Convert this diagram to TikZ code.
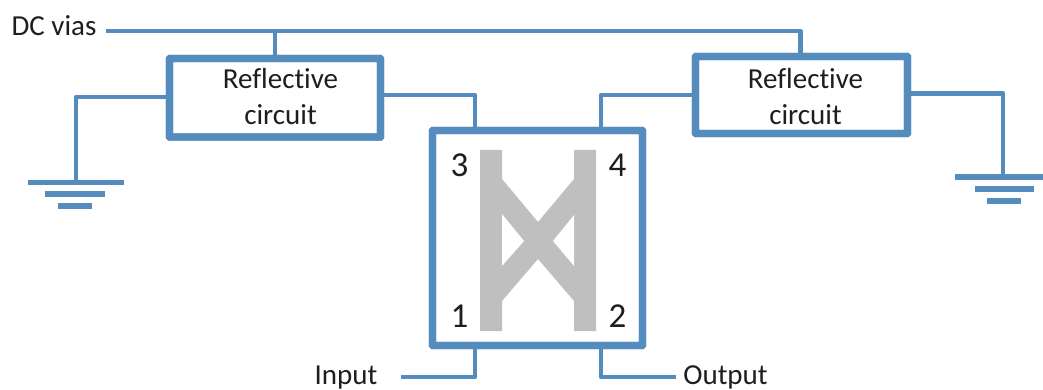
\documentclass[tikz,border=0pt]{standalone}
\usepackage{fontspec}
\setmainfont[Ligatures=NoCommon]{Carlito}
\definecolor{wire}{RGB}{84,140,190}
\definecolor{hybrid}{RGB}{191,191,191}
\definecolor{ink}{RGB}{30,30,30}
\tikzset{
  x=1pt,y=-1pt,
  wireline/.style={draw=wire,line width=4.8pt,line join=round},
  gndbar/.style={draw=wire,line width=5.4pt},
  boxnode/.style={draw=wire,line width=7.4pt,fill=white,rectangle,inner sep=0pt,outer sep=0pt,rounded corners=0.5pt},
  lbl/.style={inner sep=0pt,outer sep=0pt,text=ink,font=\fontsize{29}{29}\selectfont,anchor=base},
  num/.style={inner sep=0pt,outer sep=0pt,text=ink,font=\fontsize{35}{35}\selectfont,anchor=base},
}
\begin{document}
\begin{tikzpicture}
\useasboundingbox[fill=white] (0,0) rectangle (1043,390);
% nodes
\node[boxnode,minimum width=211pt,minimum height=78.5pt] (lbox) at (275,97.8) {};
\node[boxnode,minimum width=212pt,minimum height=77pt] (rbox) at (801.5,95) {};
\node[boxnode,minimum width=210pt,minimum height=215pt] (hyb) at (537.5,238) {};
% free ends
\coordinate (dcstart) at (106,31);
\coordinate (dcl) at (275,31);
\coordinate (dcr) at (800.5,31);
\coordinate (gl) at (76,97);
\coordinate (gla) at (76,182);
\coordinate (gr) at (1003,93.5);
\coordinate (gra) at (1003,176);
\coordinate (p3a) at (475,95);
\coordinate (p3b) at (475,130);
\coordinate (p4a) at (601,95);
\coordinate (p4b) at (601,130);
\coordinate (p1a) at (475,345);
\coordinate (p1b) at (475,377);
\coordinate (inend) at (401,377);
\coordinate (p2a) at (601,345);
\coordinate (p2b) at (601,377);
\coordinate (outend) at (676,377);
% connectors
\draw[wireline] (dcstart) -- (dcr) -- (rbox.north -| dcr);
\draw[wireline] (dcl) -- (lbox.north -| dcl);
\draw[wireline] (lbox.west |- gl) -- (gl) -- (gla);
\draw[wireline] (rbox.east |- gr) -- (gr) -- (gra);
\draw[wireline] (lbox.east |- p3a) -- (p3a) -- (p3b);
\draw[wireline] (rbox.west |- p4a) -- (p4a) -- (p4b);
\draw[wireline] (p1a) -- (p1b) -- (inend);
\draw[wireline] (p2a) -- (p2b) -- (outend);
% redraw box outlines over the wire ends
\draw[draw=wire,line width=7.4pt,rounded corners=0.5pt] (lbox.north west) rectangle (lbox.south east);
\draw[draw=wire,line width=7.4pt,rounded corners=0.5pt] (rbox.north west) rectangle (rbox.south east);
\draw[draw=wire,line width=7.4pt,rounded corners=0.5pt] (hyb.north west) rectangle (hyb.south east);
% grounds
\draw[gndbar] (28,182.5) -- (124,182.5);
\draw[gndbar] (45,194) -- (105,194);
\draw[gndbar] (58,206) -- (92,206);
\draw[gndbar] (955,177) -- (1043,177);
\draw[gndbar] (975,189) -- (1034,189);
\draw[gndbar] (987,201) -- (1021,201);
% hybrid coupler
\fill[hybrid] (480,150) -- (502,150) -- (502,179) -- (538,222) -- (574,179) -- (574,150) -- (596,150) -- (596,331) -- (574,331) -- (574,301) -- (538,259) -- (502,301) -- (502,331) -- (480,331) -- cycle;
\fill[white] (502,214) -- (524,241) -- (502,266) -- cycle;
\fill[white] (574,215) -- (553,241) -- (574,266) -- cycle;
% labels
\node[lbl] (t0) at (54,36) {DC vias};
\node[lbl] (t1) at (280.5,89) {Reflective};
\node[lbl] (t2) at (280.5,125) {circuit};
\node[lbl] (t3) at (805.5,89) {Reflective};
\node[lbl] (t4) at (805.5,125) {circuit};
\node[lbl] (t5) at (346,384) {Input};
\node[lbl] (t6) at (725.5,384) {Output};
\node[num] (n3) at (459.5,177) {3};
\node[num] (n4) at (617.5,177) {4};
\node[num] (n1) at (459.5,327) {1};
\node[num] (n2) at (617.5,327) {2};
\end{tikzpicture}
\end{document}
